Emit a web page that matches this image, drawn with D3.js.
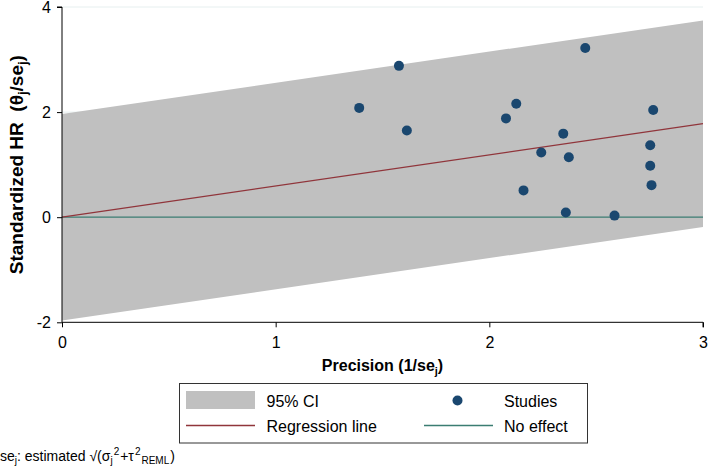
<!DOCTYPE html>
<html><head><meta charset="utf-8">
<script src="https://cdn.jsdelivr.net/npm/d3@7"></script>
<style>
html,body{margin:0;padding:0;background:#fff;}
svg{display:block;font-family:"Liberation Sans",Arial,Helvetica,sans-serif;}
text{white-space:pre;}
</style></head>
<body>
<svg id="chart" width="709" height="472"></svg>
<script>
// Data
const precision = [1.391, 1.577, 1.614, 2.078, 2.126, 2.160, 2.243, 2.346, 2.372, 2.358, 2.449, 2.586, 2.753, 2.753, 2.759, 2.767];
const standardized = [2.08, 2.88, 1.65, 1.88, 2.16, 0.51, 1.23, 1.59, 1.14, 0.09, 3.22, 0.03, 1.37, 0.98, 0.61, 2.04];
const regSlope = 0.593;
const ciHalf = 1.965;
const xDomain = [0, 3];
const yDomain = [-2, 4];
const xTicks = [0, 1, 2, 3];
const yTicks = [-2, 0, 2, 4];
const legendLabels = ["95% CI", "Studies", "Regression line", "No effect"];

const colors = {band: "#c0c0c0", point: "#1a476f", reg: "#90353b", none: "#3b7d72", grid: "#e6efef"};

const svg = d3.select("#chart");
const mLeft = 62, mRight = 703, mTop = 7, mBottom = 322.3;
const x = d3.scaleLinear().domain(xDomain).range([mLeft, mRight]);
const y = d3.scaleLinear().domain(yDomain).range([mBottom, mTop]);

// gridlines
svg.append("g").selectAll("line").data(yTicks.filter(d => d > yDomain[0])).join("line")
  .attr("x1", mLeft).attr("x2", mRight).attr("y1", d => y(d)).attr("y2", d => y(d))
  .attr("stroke", colors.grid).attr("stroke-width", 1);

// CI band
const bandPts = xDomain.map(v => ({x: v, lo: regSlope * v - ciHalf, hi: regSlope * v + ciHalf}));
svg.append("path").datum(bandPts)
  .attr("d", d3.area().x(d => x(d.x)).y0(d => y(d.lo)).y1(d => y(d.hi)))
  .attr("fill", colors.band);

// no effect line
svg.append("path").datum(xDomain)
  .attr("d", d3.line().x(d => x(d)).y(() => y(0)))
  .attr("stroke", colors.none).attr("stroke-width", 1.3).attr("fill", "none");

// regression line
svg.append("path").datum(xDomain)
  .attr("d", d3.line().x(d => x(d)).y(d => y(regSlope * d)))
  .attr("stroke", colors.reg).attr("stroke-width", 1.3).attr("fill", "none");

// points
svg.append("g").selectAll("circle").data(precision.map((p, i) => [p, standardized[i]])).join("circle")
  .attr("cx", d => x(d[0])).attr("cy", d => y(d[1])).attr("r", 5)
  .attr("fill", colors.point);

// axes
const yAxis = d3.axisLeft(y).tickValues(yTicks).tickSize(5).tickPadding(6).tickFormat(d => String(d));
const gy = svg.append("g").attr("transform", `translate(${mLeft},0)`).call(yAxis);
const xAxis = d3.axisBottom(x).tickValues(xTicks).tickSize(5).tickPadding(9).tickFormat(d => String(d));
const gx = svg.append("g").attr("transform", `translate(0,${mBottom})`).call(xAxis);
[gx, gy].forEach(g => {
  g.select(".domain").attr("stroke", "#000").attr("stroke-width", 1);
  g.selectAll(".tick line").attr("stroke", "#000");
  g.selectAll("text").attr("font-size", 16).attr("fill", "#000")
    .attr("font-family", '"Liberation Sans",Arial,sans-serif');
});
gy.select(".domain").attr("d", `M-5,${y(4)}H0V${y(-2)}`);
gx.select(".domain").attr("d", `M${x(0)},0H${x(3)}V5`);

// axis titles
const xt = svg.append("text").attr("x", (mLeft + mRight) / 2).attr("y", 371)
  .attr("text-anchor", "middle").attr("font-size", 16).attr("font-weight", "bold");
xt.append("tspan").text("Precision (1/se");
xt.append("tspan").attr("font-size", 11).attr("dy", 4).text("j");
xt.append("tspan").attr("dy", -4).text(")");

const yt = svg.append("text").attr("transform", `translate(23,${(mTop + mBottom) / 2}) rotate(-90)`)
  .attr("text-anchor", "middle").attr("font-size", 19).attr("font-weight", "bold");
yt.append("tspan").text("Standardized HR  (θ");
yt.append("tspan").attr("font-size", 13).attr("dy", 4).text("j");
yt.append("tspan").attr("dy", -4).text("/se");
yt.append("tspan").attr("font-size", 13).attr("dy", 4).text("j");
yt.append("tspan").attr("dy", -4).text(")");

// legend
const lg = svg.append("g");
lg.append("rect").attr("x", 179.5).attr("y", 383.5).attr("width", 408).attr("height", 59.5)
  .attr("fill", "#fff").attr("stroke", "#333").attr("stroke-width", 1);
lg.append("rect").attr("x", 186).attr("y", 391).attr("width", 69).attr("height", 18).attr("fill", colors.band);
lg.append("line").attr("x1", 186).attr("x2", 255).attr("y1", 425.5).attr("y2", 425.5)
  .attr("stroke", colors.reg).attr("stroke-width", 1.3);
lg.append("circle").attr("cx", 457.5).attr("cy", 400.5).attr("r", 5).attr("fill", colors.point);
lg.append("line").attr("x1", 424).attr("x2", 493).attr("y1", 425.5).attr("y2", 425.5)
  .attr("stroke", colors.none).attr("stroke-width", 1.3);
const lpos = [[266.5, 406.5], [504, 406.5], [266.5, 431.5], [504, 431.5]];
lg.selectAll("text.lab").data(legendLabels).join("text").attr("class", "lab")
  .attr("x", (d, i) => lpos[i][0]).attr("y", (d, i) => lpos[i][1])
  .attr("font-size", 16).text(d => d);

// footnote
const fn = svg.append("text").attr("x", 0).attr("y", 461).attr("font-size", 14);
fn.append("tspan").text("se");
fn.append("tspan").attr("font-size", 10).attr("dy", 3).text("j");
fn.append("tspan").attr("dy", -3).text(": estimated √(σ");
fn.append("tspan").attr("font-size", 10).attr("dy", 3).text("j");
fn.append("tspan").attr("font-size", 10).attr("dy", -9).attr("dx", 1).text("2");
fn.append("tspan").attr("dy", 6).attr("dx", 1).text("+τ");
fn.append("tspan").attr("font-size", 10).attr("dy", -6).attr("dx", 1).text("2");
fn.append("tspan").attr("font-size", 10).attr("dy", 9).attr("dx", 1).text("REML");
fn.append("tspan").attr("dy", -3).attr("dx", 1).text(")");
</script>
</body></html>
